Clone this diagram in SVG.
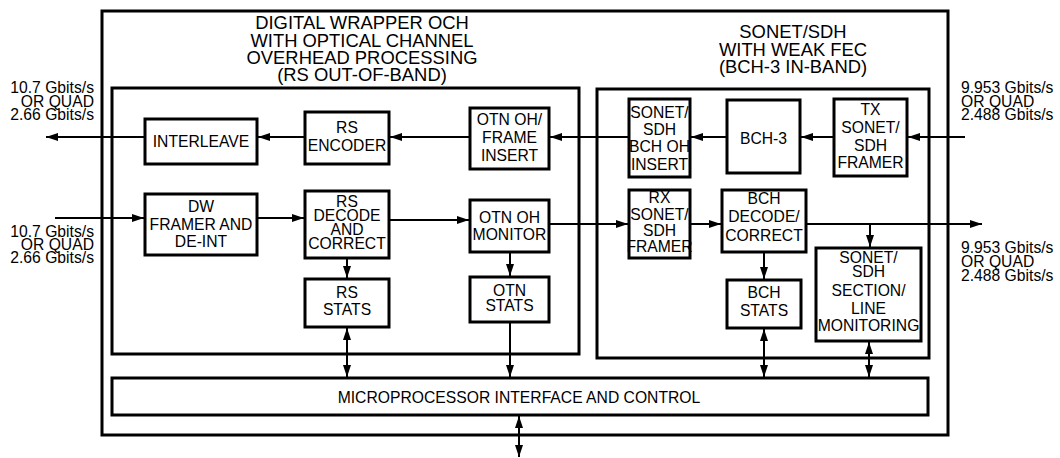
<svg xmlns="http://www.w3.org/2000/svg" width="1060" height="458" viewBox="0 0 1060 458">
<style>
text{font-family:"Liberation Sans",Arial,sans-serif;fill:#000}
.t{font-size:15.7px;text-anchor:middle}
.h{font-size:18.4px;text-anchor:middle}
.l{font-size:15.7px;text-anchor:end}
.r{font-size:15.7px;text-anchor:start}
.box{fill:#fff;stroke:#000;stroke-width:3}
.frame{fill:none;stroke:#000;stroke-width:3}
.c{fill:none;stroke:#000;stroke-width:2}
</style>
<defs>
<marker id="a" markerUnits="userSpaceOnUse" markerWidth="13" markerHeight="9" refX="12" refY="4.5" orient="auto-start-reverse">
<path d="M0,0.5 L12,4.5 L0,8.5 z" fill="#000"/>
</marker>
</defs>
<rect width="1060" height="458" fill="#fff"/>
<g id="chip"><rect class="frame" x="102" y="11" width="846" height="424"/></g>
<g id="dw-section">
<rect class="frame" x="112" y="88" width="467" height="266"/>
<text class="h" x="362" y="29">DIGITAL WRAPPER OCH</text>
<text class="h" x="362" y="46.5">WITH OPTICAL CHANNEL</text>
<text class="h" x="362" y="64">OVERHEAD PROCESSING</text>
<text class="h" x="362" y="81">(RS OUT-OF-BAND)</text>
</g>
<g id="sonet-section">
<rect class="frame" x="597" y="89" width="332" height="269"/>
<text class="h" x="793" y="38">SONET/SDH</text>
<text class="h" x="793" y="55.5">WITH WEAK FEC</text>
<text class="h" x="793" y="73">(BCH-3 IN-BAND)</text>
</g>
<g id="connectors">
<line class="c" x1="965" y1="137" x2="908" y2="137" marker-end="url(#a)"/>
<line class="c" x1="834" y1="137" x2="801" y2="137" marker-end="url(#a)"/>
<line class="c" x1="727" y1="137" x2="691" y2="137" marker-end="url(#a)"/>
<line class="c" x1="629" y1="137" x2="550" y2="137" marker-end="url(#a)"/>
<line class="c" x1="470" y1="137" x2="390" y2="137" marker-end="url(#a)"/>
<line class="c" x1="305" y1="137" x2="258" y2="137" marker-end="url(#a)"/>
<line class="c" x1="145" y1="137" x2="46" y2="137" marker-end="url(#a)"/>
<line class="c" x1="55" y1="218" x2="144" y2="218" marker-end="url(#a)"/>
<line class="c" x1="257" y1="218" x2="304" y2="218" marker-end="url(#a)"/>
<line class="c" x1="389" y1="220" x2="469" y2="220" marker-end="url(#a)"/>
<line class="c" x1="549" y1="224" x2="628" y2="224" marker-end="url(#a)"/>
<line class="c" x1="690" y1="224" x2="721" y2="224" marker-end="url(#a)"/>
<line class="c" x1="806" y1="224" x2="982" y2="224" marker-end="url(#a)"/>
<line class="c" x1="870" y1="224" x2="870" y2="247" marker-end="url(#a)"/>
<line class="c" x1="764" y1="252" x2="764" y2="279" marker-end="url(#a)"/>
<line class="c" x1="347" y1="258" x2="347" y2="278" marker-end="url(#a)"/>
<line class="c" x1="510" y1="252" x2="510" y2="276" marker-end="url(#a)"/>
<line class="c" x1="347" y1="328" x2="347" y2="377" marker-start="url(#a)" marker-end="url(#a)"/>
<line class="c" x1="510" y1="322" x2="510" y2="377" marker-end="url(#a)"/>
<line class="c" x1="764" y1="329" x2="764" y2="377" marker-start="url(#a)" marker-end="url(#a)"/>
<line class="c" x1="869" y1="342" x2="869" y2="377" marker-start="url(#a)" marker-end="url(#a)"/>
<line class="c" x1="519" y1="416" x2="519" y2="457" marker-start="url(#a)" marker-end="url(#a)"/>
</g>
<g id="interleave"><rect class="box" x="145" y="119" width="112" height="45"/><text class="t" x="201" y="147">INTERLEAVE</text></g>
<g id="rs-encoder"><rect class="box" x="305" y="112" width="84" height="52"/><text class="t" x="347" y="133">RS</text><text class="t" x="347" y="151">ENCODER</text></g>
<g id="otn-insert"><rect class="box" x="470" y="108" width="79" height="61"/><text class="t" x="509.5" y="125">OTN OH/</text><text class="t" x="509.5" y="143">FRAME</text><text class="t" x="509.5" y="161">INSERT</text></g>
<g id="bch-oh-insert"><rect class="box" x="629" y="99" width="61" height="78"/><text class="t" x="659.5" y="118">SONET/</text><text class="t" x="659.5" y="135">SDH</text><text class="t" x="659.5" y="152">BCH OH</text><text class="t" x="659.5" y="169.5">INSERT</text></g>
<g id="bch3"><rect class="box" x="727" y="100" width="73" height="73"/><text class="t" x="763.5" y="144">BCH-3</text></g>
<g id="tx-framer"><rect class="box" x="834" y="99" width="73" height="77"/><text class="t" x="870.5" y="115">TX</text><text class="t" x="870.5" y="133">SONET/</text><text class="t" x="870.5" y="151">SDH</text><text class="t" x="870.5" y="168">FRAMER</text></g>
<g id="dw-framer"><rect class="box" x="145" y="194" width="112" height="61"/><text class="t" x="201" y="212">DW</text><text class="t" x="201" y="229.5">FRAMER AND</text><text class="t" x="201" y="247">DE-INT</text></g>
<g id="rs-decode"><rect class="box" x="305" y="191" width="84" height="67"/><text class="t" x="347" y="206.5">RS</text><text class="t" x="347" y="220.5">DECODE</text><text class="t" x="347" y="235">AND</text><text class="t" x="347" y="249">CORRECT</text></g>
<g id="otn-monitor"><rect class="box" x="470" y="200" width="79" height="52"/><text class="t" x="509.5" y="223">OTN OH</text><text class="t" x="509.5" y="240">MONITOR</text></g>
<g id="rx-framer"><rect class="box" x="629" y="190" width="61" height="68"/><text class="t" x="659.5" y="203">RX</text><text class="t" x="659.5" y="219.5">SONET/</text><text class="t" x="659.5" y="236">SDH</text><text class="t" x="659.5" y="252">FRAMER</text></g>
<g id="bch-decode"><rect class="box" x="722" y="190" width="84" height="62"/><text class="t" x="764" y="204">BCH</text><text class="t" x="764" y="222">DECODE/</text><text class="t" x="764" y="241">CORRECT</text></g>
<g id="line-monitoring"><rect class="box" x="816" y="248" width="105" height="93"/><text class="t" x="868.5" y="263">SONET/</text><text class="t" x="868.5" y="277">SDH</text><text class="t" x="868.5" y="296">SECTION/</text><text class="t" x="868.5" y="313.5">LINE</text><text class="t" x="868.5" y="331">MONITORING</text></g>
<g id="rs-stats"><rect class="box" x="305" y="279" width="84" height="48"/><text class="t" x="347" y="298">RS</text><text class="t" x="347" y="315">STATS</text></g>
<g id="otn-stats"><rect class="box" x="470" y="277" width="79" height="45"/><text class="t" x="509.5" y="296">OTN</text><text class="t" x="509.5" y="311">STATS</text></g>
<g id="bch-stats"><rect class="box" x="727" y="280" width="74" height="48"/><text class="t" x="764" y="298">BCH</text><text class="t" x="764" y="316">STATS</text></g>
<g id="microprocessor"><rect class="box" x="112" y="378" width="816" height="37"/><text class="t" x="519" y="402.5">MICROPROCESSOR INTERFACE AND CONTROL</text></g>
<g id="labels">
<text class="l" x="94" y="93">10.7 Gbits/s</text>
<text class="l" x="94" y="106.5">OR QUAD</text>
<text class="l" x="94" y="120">2.66 Gbits/s</text>
<text class="l" x="94" y="236.5">10.7 Gbits/s</text>
<text class="l" x="94" y="249.5">OR QUAD</text>
<text class="l" x="94" y="262.5">2.66 Gbits/s</text>
<text class="r" x="961" y="93">9.953 Gbits/s</text>
<text class="r" x="961" y="106.5">OR QUAD</text>
<text class="r" x="961" y="120">2.488 Gbits/s</text>
<text class="r" x="961" y="253">9.953 Gbits/s</text>
<text class="r" x="961" y="267">OR QUAD</text>
<text class="r" x="961" y="281">2.488 Gbits/s</text>
</g>
</svg>
